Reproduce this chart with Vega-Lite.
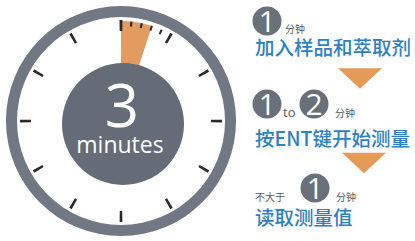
{
  "$schema": "https://vega.github.io/schema/vega-lite/v6.json",
  "width": 415,
  "height": 241,
  "autosize": {"type": "fit", "contains": "padding"},
  "padding": 0,
  "background": "white",
  "config": {"view": {"stroke": null}},
  "datasets": {
    "clock": [
      {"kind": "ring", "cx": 121, "cy": 121, "t0": 0, "t1": 60, "r0": 104, "r1": 115},
      {"kind": "wedge", "cx": 121, "cy": 121, "t0": 0, "t1": 3, "r0": 55, "r1": 100},
      {"kind": "hour", "cx": 121, "cy": 121, "t0": -0.14, "t1": 0.14, "r0": 90, "r1": 101},
      {"kind": "hour", "cx": 121, "cy": 121, "t0": 4.87, "t1": 5.13, "r0": 90, "r1": 101},
      {"kind": "hour", "cx": 121, "cy": 121, "t0": 9.87, "t1": 10.13, "r0": 90, "r1": 101},
      {"kind": "hour", "cx": 121, "cy": 121, "t0": 14.87, "t1": 15.13, "r0": 90, "r1": 101},
      {"kind": "hour", "cx": 121, "cy": 121, "t0": 19.87, "t1": 20.13, "r0": 90, "r1": 101},
      {"kind": "hour", "cx": 121, "cy": 121, "t0": 24.87, "t1": 25.13, "r0": 90, "r1": 101},
      {"kind": "hour", "cx": 121, "cy": 121, "t0": 29.87, "t1": 30.13, "r0": 90, "r1": 101},
      {"kind": "hour", "cx": 121, "cy": 121, "t0": 34.87, "t1": 35.13, "r0": 90, "r1": 101},
      {"kind": "hour", "cx": 121, "cy": 121, "t0": 39.87, "t1": 40.13, "r0": 90, "r1": 101},
      {"kind": "hour", "cx": 121, "cy": 121, "t0": 44.87, "t1": 45.13, "r0": 90, "r1": 101},
      {"kind": "hour", "cx": 121, "cy": 121, "t0": 49.87, "t1": 50.13, "r0": 90, "r1": 101},
      {"kind": "hour", "cx": 121, "cy": 121, "t0": 54.87, "t1": 55.13, "r0": 90, "r1": 101},
      {"kind": "minute", "cx": 121, "cy": 121, "t0": 0.9, "t1": 1.1, "r0": 95, "r1": 100},
      {"kind": "minute", "cx": 121, "cy": 121, "t0": 1.9, "t1": 2.1, "r0": 95, "r1": 100},
      {"kind": "minute", "cx": 121, "cy": 121, "t0": 2.9, "t1": 3.1, "r0": 95, "r1": 100},
      {"kind": "minute", "cx": 121, "cy": 121, "t0": 3.9, "t1": 4.1, "r0": 95, "r1": 100},
      {"kind": "face", "cx": 123, "cy": 124, "t0": 0, "t1": 60, "r0": 0, "r1": 61}
    ],
    "badges": [
      {"x": 267, "y": 21, "n": "1"},
      {"x": 267, "y": 104, "n": "1"},
      {"x": 314, "y": 104, "n": "2"},
      {"x": 315, "y": 188, "n": "1"}
    ],
    "small": [
      {"x": 285, "y": 33, "t": "分钟"},
      {"x": 335, "y": 117, "t": "分钟"},
      {"x": 336, "y": 201, "t": "分钟"},
      {"x": 255, "y": 201, "t": "不大于"}
    ],
    "to": [{"x": 283, "y": 117, "t": "to"}],
    "steps": [
      {"x": 255, "y": 55, "t": "加入样品和萃取剂"},
      {"x": 255, "y": 146, "t": "按ENT键开始测量"},
      {"x": 255, "y": 225, "t": "读取测量值"}
    ],
    "arrows": [
      {"x": 360, "y": 78.5},
      {"x": 364, "y": 163}
    ],
    "big": [{"x": 122, "y": 127, "t": "3"}],
    "unit": [{"x": 120, "y": 153, "t": "minutes"}]
  },
  "layer": [
    {
      "data": {"name": "clock"},
      "mark": {"type": "arc", "stroke": null},
      "encoding": {
        "x": {"field": "cx", "type": "quantitative", "scale": {"domain": [0, 415], "nice": false, "zero": false}, "axis": null},
        "y": {"field": "cy", "type": "quantitative", "scale": {"domain": [0, 241], "nice": false, "zero": false, "reverse": true}, "axis": null},
        "theta": {"field": "t0", "type": "quantitative", "scale": {"domain": [0, 60], "range": [0, 6.283185307], "zero": false, "nice": false}},
        "theta2": {"field": "t1"},
        "radius": {"field": "r0", "type": "quantitative", "scale": {"type": "linear", "domain": [0, 115], "range": [0, 115], "zero": true, "nice": false}},
        "radius2": {"field": "r1"},
        "color": {"field": "kind", "type": "nominal", "legend": null, "scale": {"domain": ["ring", "wedge", "hour", "minute", "face"], "range": ["#717884", "#e39c5f", "#2a2a2a", "#2a2a2a", "#656c78"]}}
      }
    },
    {
      "data": {"name": "big"},
      "mark": {"type": "text", "align": "center", "baseline": "alphabetic", "font": "Open Sans", "fontSize": 60, "color": "white"},
      "encoding": {
        "x": {"field": "x", "type": "quantitative"},
        "y": {"field": "y", "type": "quantitative"},
        "text": {"field": "t"}
      }
    },
    {
      "data": {"name": "unit"},
      "mark": {"type": "text", "align": "center", "baseline": "alphabetic", "font": "Open Sans", "fontSize": 23, "color": "white"},
      "encoding": {
        "x": {"field": "x", "type": "quantitative"},
        "y": {"field": "y", "type": "quantitative"},
        "text": {"field": "t"}
      }
    },
    {
      "data": {"name": "badges"},
      "mark": {"type": "point", "shape": "circle", "filled": true, "size": 841, "color": "#6a707a", "opacity": 1},
      "encoding": {
        "x": {"field": "x", "type": "quantitative"},
        "y": {"field": "y", "type": "quantitative"}
      }
    },
    {
      "data": {"name": "badges"},
      "mark": {"type": "text", "align": "center", "baseline": "alphabetic", "font": "Open Sans", "fontSize": 30, "color": "white", "dy": 11},
      "encoding": {
        "x": {"field": "x", "type": "quantitative"},
        "y": {"field": "y", "type": "quantitative"},
        "text": {"field": "n"}
      }
    },
    {
      "data": {"name": "small"},
      "mark": {"type": "text", "align": "left", "baseline": "alphabetic", "font": "Noto Sans CJK SC", "fontSize": 10, "color": "#555a62"},
      "encoding": {
        "x": {"field": "x", "type": "quantitative"},
        "y": {"field": "y", "type": "quantitative"},
        "text": {"field": "t"}
      }
    },
    {
      "data": {"name": "to"},
      "mark": {"type": "text", "align": "left", "baseline": "alphabetic", "font": "Open Sans", "fontSize": 13, "color": "#555a62"},
      "encoding": {
        "x": {"field": "x", "type": "quantitative"},
        "y": {"field": "y", "type": "quantitative"},
        "text": {"field": "t"}
      }
    },
    {
      "data": {"name": "steps"},
      "mark": {"type": "text", "align": "left", "baseline": "alphabetic", "font": "Noto Sans CJK SC", "fontSize": 19.5, "fontWeight": 500, "color": "#2d80c2"},
      "encoding": {
        "x": {"field": "x", "type": "quantitative"},
        "y": {"field": "y", "type": "quantitative"},
        "text": {"field": "t"}
      }
    },
    {
      "data": {"name": "arrows"},
      "mark": {"type": "point", "shape": "M-1,-0.47L1,-0.47L0,0.47Z", "filled": true, "size": 1936, "color": "#e69a57", "opacity": 1},
      "encoding": {
        "x": {"field": "x", "type": "quantitative"},
        "y": {"field": "y", "type": "quantitative"}
      }
    }
  ]
}
